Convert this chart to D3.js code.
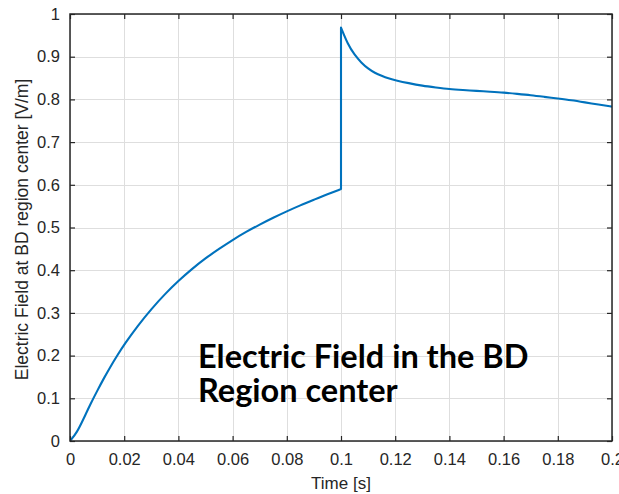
<!DOCTYPE html>
<html>
<head>
<meta charset="utf-8">
<script src="https://cdn.jsdelivr.net/npm/d3@7"></script>
<style>
  html, body { margin: 0; padding: 0; background: #fff; }
  svg { display: block; }
</style>
</head>
<body>
<svg id="chart" width="619" height="494"></svg>
<script>
// Charging phase: field rises until the switch at t = 0.1 s
const timeRise  = [0, 0.0025, 0.005, 0.0075, 0.01, 0.0125, 0.015, 0.0175, 0.02,
                   0.025, 0.03, 0.035, 0.04, 0.045, 0.05, 0.055, 0.06, 0.065, 0.07,
                   0.075, 0.08, 0.085, 0.09, 0.095, 0.1];
const fieldRise = [0, 0.019, 0.052, 0.086, 0.117, 0.147, 0.175, 0.201, 0.226,
                   0.270, 0.309, 0.344, 0.375, 0.403, 0.428, 0.450, 0.471, 0.490, 0.507,
                   0.523, 0.538, 0.552, 0.565, 0.578, 0.590];

// After the switch: jump to the peak, then relaxation
const timeDecay  = [0.1, 0.1025, 0.105, 0.1075, 0.11, 0.1125, 0.115, 0.1175, 0.12,
                    0.125, 0.13, 0.135, 0.14, 0.145, 0.15, 0.155, 0.16, 0.165, 0.17,
                    0.175, 0.18, 0.185, 0.19, 0.195, 0.2];
const fieldDecay = [0.968, 0.929, 0.904, 0.886, 0.872, 0.862, 0.855, 0.849, 0.845,
                    0.838, 0.832, 0.828, 0.824, 0.822, 0.820, 0.818, 0.816, 0.813, 0.810,
                    0.806, 0.802, 0.798, 0.793, 0.788, 0.783];

const xTicks = [0, 0.02, 0.04, 0.06, 0.08, 0.1, 0.12, 0.14, 0.16, 0.18, 0.2];
const yTicks = [0, 0.1, 0.2, 0.3, 0.4, 0.5, 0.6, 0.7, 0.8, 0.9, 1];

const xLabel = "Time [s]";
const yLabel = "Electric Field at BD region center [V/m]";
const noteLines = ["Electric Field in the BD", "Region center"];

const svg = d3.select("#chart");
const plot = { left: 70, right: 612, top: 14, bottom: 441 };

const x = d3.scaleLinear().domain([0, 0.2]).range([plot.left, plot.right]);
const y = d3.scaleLinear().domain([0, 1]).range([plot.bottom, plot.top]);

const axisColor = "#262626";
const tickFont = "'Liberation Sans', Arial, Helvetica, sans-serif";

// grid
const grid = svg.append("g").attr("stroke", "#dedede").attr("stroke-width", 1);
grid.selectAll("line.gx").data(xTicks).join("line")
  .attr("x1", d => Math.round(x(d)) + 0.5).attr("x2", d => Math.round(x(d)) + 0.5)
  .attr("y1", plot.top).attr("y2", plot.bottom);
grid.selectAll("line.gy").data(yTicks).join("line")
  .attr("y1", d => Math.round(y(d)) + 0.5).attr("y2", d => Math.round(y(d)) + 0.5)
  .attr("x1", plot.left).attr("x2", plot.right);

// data curve
svg.append("clipPath").attr("id", "plotClip").append("rect")
  .attr("x", plot.left).attr("y", plot.top - 3)
  .attr("width", plot.right - plot.left).attr("height", plot.bottom - plot.top + 3);

const line = d3.line().x(d => x(d[0])).y(d => y(d[1])).curve(d3.curveBasis);
const rise = d3.zip(timeRise, fieldRise);
const decay = d3.zip(timeDecay, fieldDecay);
const pathD = line(rise) + line(decay).replace(/^M/, "L");

svg.append("path")
  .attr("d", pathD)
  .attr("fill", "none")
  .attr("stroke", "#0072BD")
  .attr("stroke-width", 2.1)
  .attr("stroke-linejoin", "round")
  .attr("clip-path", "url(#plotClip)");

// axes (ticks pointing inward, mirrored on top and right)
const axB = d3.axisBottom(x).tickValues(xTicks).tickSizeInner(-5).tickSizeOuter(0)
  .tickPadding(12).tickFormat(d3.format("~g"));
const axT = d3.axisTop(x).tickValues(xTicks).tickSizeInner(-5).tickSizeOuter(0).tickFormat("");
const axL = d3.axisLeft(y).tickValues(yTicks).tickSizeInner(-5).tickSizeOuter(0)
  .tickPadding(10).tickFormat(d3.format("~g"));
const axR = d3.axisRight(y).tickValues(yTicks).tickSizeInner(-5).tickSizeOuter(0).tickFormat("");

function styleAxis(g) {
  g.select(".domain").remove();
  g.selectAll(".tick line").attr("stroke", axisColor).attr("stroke-width", 1.2);
  g.selectAll(".tick text").attr("fill", axisColor)
    .style("font-family", tickFont).style("font-size", "16.5px");
}
svg.append("g").attr("transform", `translate(0,${plot.bottom})`).call(axB).call(styleAxis);
svg.append("g").attr("transform", `translate(0,${plot.top})`).call(axT).call(styleAxis);
svg.append("g").attr("transform", `translate(${plot.left},0)`).call(axL).call(styleAxis);
svg.append("g").attr("transform", `translate(${plot.right},0)`).call(axR).call(styleAxis);

// axes box
svg.append("rect")
  .attr("x", plot.left).attr("y", plot.top)
  .attr("width", plot.right - plot.left).attr("height", plot.bottom - plot.top)
  .attr("fill", "none").attr("stroke", axisColor).attr("stroke-width", 1.5);

// axis labels
svg.append("text")
  .attr("x", (plot.left + plot.right) / 2).attr("y", 489)
  .attr("text-anchor", "middle").attr("fill", axisColor)
  .style("font-family", tickFont).style("font-size", "17px")
  .text(xLabel);

svg.append("text")
  .attr("transform", `translate(28,${(plot.top + plot.bottom) / 2 + 2}) rotate(-90)`)
  .attr("text-anchor", "middle").attr("fill", axisColor)
  .style("font-family", tickFont).style("font-size", "17.5px")
  .text(yLabel);

// annotation, one text element per line
svg.selectAll("text.note").data(noteLines).join("text")
  .attr("class", "note")
  .attr("x", 198)
  .attr("y", (d, i) => 368 + i * 34)
  .attr("fill", "#000")
  .style("font-family", "Lato, 'Open Sans', sans-serif")
  .style("font-weight", "bold")
  .style("font-size", "32.5px")
  .text(d => d);
</script>
</body>
</html>
